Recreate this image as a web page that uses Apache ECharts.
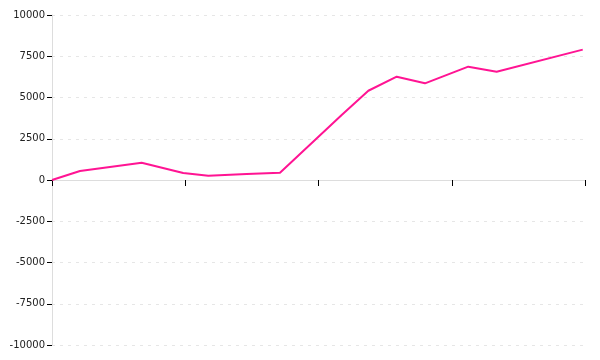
<!DOCTYPE html>
<html>
<head>
<meta charset="utf-8">
<script src="https://cdn.jsdelivr.net/npm/echarts@6/dist/echarts.min.js"></script>
<style>html,body{margin:0;padding:0;background:#fff}#c{width:600px;height:360px}</style>
</head>
<body>
<div id="c"></div>
<script>
// x positions (axis units 0..4) and values
const xValues = [0, 0.21, 0.673, 0.985, 1.173, 1.461, 1.711, 2.174, 2.374, 2.587, 2.799, 3.124, 3.337, 3.983];
const yValues = [0, 545, 1050, 420, 260, 370, 440, 3940, 5410, 6260, 5860, 6870, 6565, 7900];
const yTicks = [-10000, -7500, -5000, -2500, 0, 2500, 5000, 7500, 10000];

const chart = echarts.init(document.getElementById('c'), null, {renderer: 'canvas'});
chart.setOption({
  animation: false,
  grid: {left: 52, right: 15, top: 15, bottom: 15, containLabel: false},
  xAxis: {
    type: 'value', min: 0, max: 4, interval: 1,
    axisLine: {onZero: true, lineStyle: {color: '#ddd', width: 1}},
    axisTick: {show: true, length: 6, lineStyle: {color: '#000'}},
    axisLabel: {show: false},
    splitLine: {show: false}
  },
  yAxis: {
    type: 'value', min: yTicks[0], max: yTicks[yTicks.length - 1], interval: 2500,
    axisLine: {show: true, lineStyle: {color: '#ddd', width: 1}},
    axisTick: {show: true, length: 5, lineStyle: {color: '#000'}},
    axisLabel: {color: '#222', fontSize: 10, fontFamily: 'DejaVu Sans', margin: 7, formatter: v => String(v)},
    splitLine: {show: true, lineStyle: {color: '#e6e6e6', type: [3, 5]}}
  },
  series: [{
    type: 'line',
    data: xValues.map((x, i) => [x, yValues[i]]),
    showSymbol: false,
    lineStyle: {color: '#ff1493', width: 2},
    itemStyle: {color: '#ff1493'}
  }]
});
</script>
</body>
</html>
